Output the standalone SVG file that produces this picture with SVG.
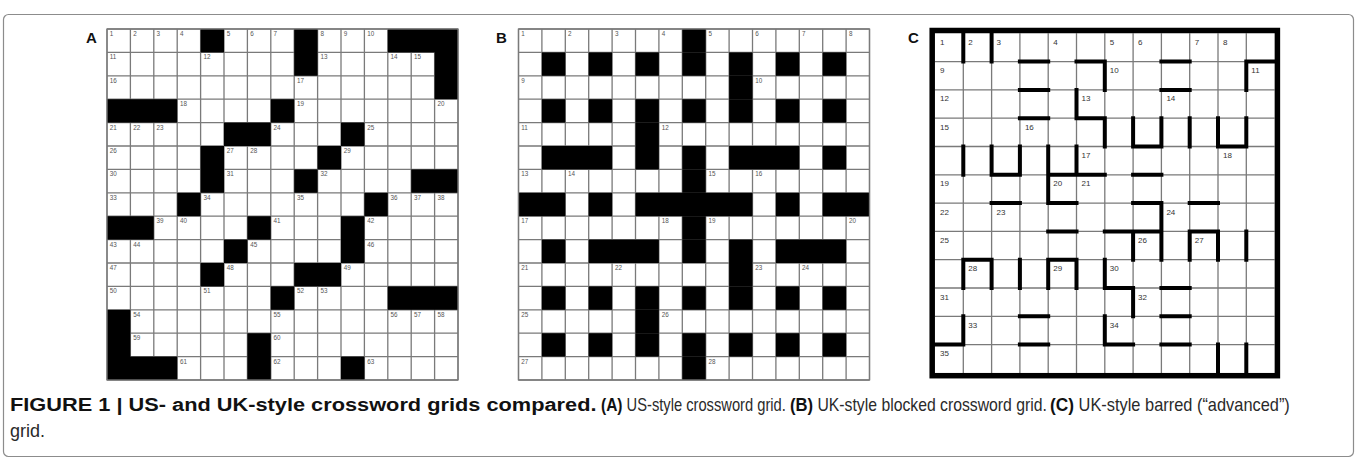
<svg xmlns="http://www.w3.org/2000/svg" xmlns:xlink="http://www.w3.org/1999/xlink" width="1357" height="461" viewBox="0 0 1357 461">
<style>
.frame{fill:none;stroke:#8c8c8c;stroke-width:1.2}
.gl{fill:none;stroke:#7a7a7a;stroke-width:1.3}
.bk{fill:#000}
.n{font-family:"Liberation Sans",Arial,sans-serif;font-size:6.3px;fill:#555}
.nc{font-family:"Liberation Sans",Arial,sans-serif;font-size:8px;fill:#333}
.lab{font-family:"Liberation Sans",Arial,sans-serif;font-size:15px;font-weight:bold;fill:#111}
.bar{fill:none;stroke:#000;stroke-width:4;stroke-linecap:square}
.border{fill:none;stroke:#000;stroke-width:5.5}
.cap{font-family:"Liberation Sans",Arial,sans-serif;font-size:18px;fill:#2a2a2a}
.cb{font-family:"Liberation Sans",Arial,sans-serif;font-size:19px;font-weight:bold;fill:#111}
.bt{font-size:19px;font-weight:bold;fill:#111}
</style>
<defs>
<rect id="s" width="23.4" height="23.4" class="bk"/>
<g id="odd">
<use xlink:href="#s" x="23.4"/><use xlink:href="#s" x="70.2"/><use xlink:href="#s" x="117"/><use xlink:href="#s" x="163.8"/><use xlink:href="#s" x="210.6"/><use xlink:href="#s" x="257.4"/><use xlink:href="#s" x="304.2"/>
</g>
</defs>
<rect class="frame" x="3.5" y="14.5" width="1350" height="442" rx="5"/>

<g id="gridA">
<text class="lab" x="86" y="43">A</text>
<path class="gl" d="M107 29H458M107 52.4H458M107 75.8H458M107 99.2H458M107 122.6H458M107 146H458M107 169.4H458M107 192.8H458M107 216.2H458M107 239.6H458M107 263H458M107 286.4H458M107 309.8H458M107 333.2H458M107 356.6H458M107 380H458M107 29V380M130.4 29V380M153.8 29V380M177.2 29V380M200.6 29V380M224 29V380M247.4 29V380M270.8 29V380M294.2 29V380M317.6 29V380M341 29V380M364.4 29V380M387.8 29V380M411.2 29V380M434.6 29V380M458 29V380"/>
<g class="bk">
<rect x="200.6" y="29" width="23.4" height="23.4"/><rect x="294.2" y="29" width="23.4" height="46.8"/><rect x="387.8" y="29" width="70.2" height="23.4"/><rect x="434.6" y="29" width="23.4" height="70.2"/>
<rect x="107" y="99.2" width="70.2" height="23.4"/><rect x="270.8" y="99.2" width="23.4" height="23.4"/>
<rect x="224" y="122.6" width="46.8" height="23.4"/><rect x="341" y="122.6" width="23.4" height="23.4"/>
<rect x="200.6" y="146" width="23.4" height="46.8"/><rect x="317.6" y="146" width="23.4" height="23.4"/>
<rect x="294.2" y="169.4" width="23.4" height="23.4"/><rect x="411.2" y="169.4" width="46.8" height="23.4"/>
<rect x="177.2" y="192.8" width="23.4" height="23.4"/><rect x="364.4" y="192.8" width="23.4" height="23.4"/>
<rect x="107" y="216.2" width="46.8" height="23.4"/><rect x="247.4" y="216.2" width="23.4" height="23.4"/><rect x="341" y="216.2" width="23.4" height="46.8"/>
<rect x="224" y="239.6" width="23.4" height="23.4"/>
<rect x="200.6" y="263" width="23.4" height="23.4"/><rect x="294.2" y="263" width="46.8" height="23.4"/>
<rect x="270.8" y="286.4" width="23.4" height="23.4"/><rect x="387.8" y="286.4" width="70.2" height="23.4"/>
<rect x="107" y="309.8" width="23.4" height="70.2"/><rect x="247.4" y="333.2" width="23.4" height="46.8"/>
<rect x="107" y="356.6" width="70.2" height="23.4"/><rect x="341" y="356.6" width="23.4" height="23.4"/>
</g>
<rect class="gl" x="107" y="29" width="351" height="351"/>
<g class="n">
<text x="109.8" y="36">1</text><text x="133.2" y="36">2</text><text x="156.6" y="36">3</text><text x="180" y="36">4</text><text x="226.8" y="36">5</text><text x="250.2" y="36">6</text><text x="273.6" y="36">7</text><text x="320.4" y="36">8</text><text x="343.8" y="36">9</text><text x="367.2" y="36">10</text>
<text x="109.8" y="59.4">11</text><text x="203.4" y="59.4">12</text><text x="320.4" y="59.4">13</text><text x="390.6" y="59.4">14</text><text x="414" y="59.4">15</text>
<text x="109.8" y="82.8">16</text><text x="297" y="82.8">17</text>
<text x="180" y="106.2">18</text><text x="297" y="106.2">19</text><text x="437.4" y="106.2">20</text>
<text x="109.8" y="129.6">21</text><text x="133.2" y="129.6">22</text><text x="156.6" y="129.6">23</text><text x="273.6" y="129.6">24</text><text x="367.2" y="129.6">25</text>
<text x="109.8" y="153">26</text><text x="226.8" y="153">27</text><text x="250.2" y="153">28</text><text x="343.8" y="153">29</text>
<text x="109.8" y="176.4">30</text><text x="226.8" y="176.4">31</text><text x="320.4" y="176.4">32</text>
<text x="109.8" y="199.8">33</text><text x="203.4" y="199.8">34</text><text x="297" y="199.8">35</text><text x="390.6" y="199.8">36</text><text x="414" y="199.8">37</text><text x="437.4" y="199.8">38</text>
<text x="156.6" y="223.2">39</text><text x="180" y="223.2">40</text><text x="273.6" y="223.2">41</text><text x="367.2" y="223.2">42</text>
<text x="109.8" y="246.6">43</text><text x="133.2" y="246.6">44</text><text x="250.2" y="246.6">45</text><text x="367.2" y="246.6">46</text>
<text x="109.8" y="270">47</text><text x="226.8" y="270">48</text><text x="343.8" y="270">49</text>
<text x="109.8" y="293.4">50</text><text x="203.4" y="293.4">51</text><text x="297" y="293.4">52</text><text x="320.4" y="293.4">53</text>
<text x="133.2" y="316.8">54</text><text x="273.6" y="316.8">55</text><text x="390.6" y="316.8">56</text><text x="414" y="316.8">57</text><text x="437.4" y="316.8">58</text>
<text x="133.2" y="340.2">59</text><text x="273.6" y="340.2">60</text>
<text x="180" y="363.6">61</text><text x="273.6" y="363.6">62</text><text x="367.2" y="363.6">63</text>
</g>
</g>

<g id="gridB">
<text class="lab" x="496" y="43">B</text>
<path class="gl" d="M518.5 29H869.5M518.5 52.4H869.5M518.5 75.8H869.5M518.5 99.2H869.5M518.5 122.6H869.5M518.5 146H869.5M518.5 169.4H869.5M518.5 192.8H869.5M518.5 216.2H869.5M518.5 239.6H869.5M518.5 263H869.5M518.5 286.4H869.5M518.5 309.8H869.5M518.5 333.2H869.5M518.5 356.6H869.5M518.5 380H869.5M518.5 29V380M541.9 29V380M565.3 29V380M588.7 29V380M612.1 29V380M635.5 29V380M658.9 29V380M682.3 29V380M705.7 29V380M729.1 29V380M752.5 29V380M775.9 29V380M799.3 29V380M822.7 29V380M846.1 29V380M869.5 29V380"/>
<g class="bk">
<use xlink:href="#odd" x="518.5" y="52.4"/><use xlink:href="#odd" x="518.5" y="99.2"/><use xlink:href="#odd" x="518.5" y="286.4"/><use xlink:href="#odd" x="518.5" y="333.2"/>
<rect x="682.3" y="29" width="23.4" height="23.4"/><rect x="729.1" y="75.8" width="23.4" height="23.4"/><rect x="635.5" y="122.6" width="23.4" height="23.4"/>
<rect x="541.9" y="146" width="70.2" height="23.4"/><rect x="635.5" y="146" width="23.4" height="23.4"/><rect x="682.3" y="146" width="23.4" height="23.4"/><rect x="729.1" y="146" width="70.2" height="23.4"/><rect x="822.7" y="146" width="23.4" height="23.4"/>
<rect x="682.3" y="169.4" width="23.4" height="23.4"/>
<rect x="518.5" y="192.8" width="46.8" height="23.4"/><rect x="588.7" y="192.8" width="23.4" height="23.4"/><rect x="635.5" y="192.8" width="117" height="23.4"/><rect x="775.9" y="192.8" width="23.4" height="23.4"/><rect x="822.7" y="192.8" width="46.8" height="23.4"/>
<rect x="682.3" y="216.2" width="23.4" height="23.4"/>
<rect x="541.9" y="239.6" width="23.4" height="23.4"/><rect x="588.7" y="239.6" width="70.2" height="23.4"/><rect x="682.3" y="239.6" width="23.4" height="23.4"/><rect x="729.1" y="239.6" width="23.4" height="23.4"/><rect x="775.9" y="239.6" width="70.2" height="23.4"/>
<rect x="729.1" y="263" width="23.4" height="23.4"/><rect x="635.5" y="309.8" width="23.4" height="23.4"/><rect x="682.3" y="356.6" width="23.4" height="23.4"/>
</g>
<rect class="gl" x="518.5" y="29" width="351" height="351"/>
<g class="n">
<text x="521.3" y="36">1</text><text x="568.1" y="36">2</text><text x="614.9" y="36">3</text><text x="661.7" y="36">4</text><text x="708.5" y="36">5</text><text x="755.3" y="36">6</text><text x="802.1" y="36">7</text><text x="848.9" y="36">8</text>
<text x="521.3" y="82.8">9</text><text x="755.3" y="82.8">10</text>
<text x="521.3" y="129.6">11</text><text x="661.7" y="129.6">12</text>
<text x="521.3" y="176.4">13</text><text x="568.1" y="176.4">14</text><text x="708.5" y="176.4">15</text><text x="755.3" y="176.4">16</text>
<text x="521.3" y="223.2">17</text><text x="661.7" y="223.2">18</text><text x="708.5" y="223.2">19</text><text x="848.9" y="223.2">20</text>
<text x="521.3" y="270">21</text><text x="614.9" y="270">22</text><text x="755.3" y="270">23</text><text x="802.1" y="270">24</text>
<text x="521.3" y="316.8">25</text><text x="661.7" y="316.8">26</text>
<text x="521.3" y="363.6">27</text><text x="708.5" y="363.6">28</text>
</g>
</g>

<g id="gridC">
<text class="lab" x="908" y="43">C</text>
<path class="gl" d="M935 61.6H1274.6M935 89.9H1274.6M935 118.2H1274.6M935 146.5H1274.6M935 174.8H1274.6M935 203.1H1274.6M935 231.4H1274.6M935 259.7H1274.6M935 288H1274.6M935 316.3H1274.6M935 344.6H1274.6M963.3 33.3V372.9M991.6 33.3V372.9M1019.9 33.3V372.9M1048.2 33.3V372.9M1076.5 33.3V372.9M1104.8 33.3V372.9M1133.1 33.3V372.9M1161.4 33.3V372.9M1189.7 33.3V372.9M1218 33.3V372.9M1246.3 33.3V372.9"/>
<path class="bar" d="M963.3 33.3V61.6M991.6 33.3V61.6M1104.8 61.6V89.9M1246.3 61.6V89.9M1076.5 89.9V118.2M1104.8 118.2V146.5M1133.1 118.2V146.5M1161.4 118.2V146.5M1189.7 118.2V146.5M1218 118.2V146.5M1246.3 118.2V146.5M963.3 146.5V174.8M991.6 146.5V174.8M1019.9 146.5V174.8M1048.2 146.5V203.1M1076.5 146.5V174.8M1161.4 203.1V259.7M1133.1 231.4V259.7M1189.7 231.4V259.7M1218 231.4V259.7M1246.3 231.4V259.7M963.3 259.7V288M991.6 259.7V288M1019.9 259.7V288M1048.2 259.7V288M1076.5 259.7V288M1104.8 259.7V288M1133.1 288V316.3M963.3 316.3V344.6M1104.8 316.3V344.6M1218 344.6V372.9M1246.3 344.6V372.9
M1019.9 61.6H1048.2M1076.5 61.6H1104.8M1161.4 61.6H1189.7M1246.3 61.6H1274.6M1019.9 89.9H1048.2M1161.4 89.9H1189.7M1019.9 118.2H1048.2M1076.5 118.2H1104.8M1133.1 146.5H1161.4M1218 146.5H1246.3M991.6 174.8H1019.9M1048.2 174.8H1104.8M1133.1 174.8H1161.4M991.6 203.1H1019.9M1048.2 203.1H1076.5M1133.1 203.1H1161.4M1189.7 203.1H1218M1048.2 231.4H1076.5M1104.8 231.4H1161.4M1189.7 231.4H1218M963.3 259.7H991.6M1048.2 259.7H1076.5M1104.8 288H1133.1M1161.4 288H1189.7M1019.9 316.3H1048.2M1161.4 316.3H1189.7M935 344.6H963.3M1019.9 344.6H1048.2M1104.8 344.6H1133.1M1161.4 344.6H1189.7"/>
<rect class="border" x="932.2" y="30.5" width="345.2" height="345.2"/>
<g class="nc">
<text x="940" y="44.8">1</text><text x="968.3" y="44.8">2</text><text x="996.6" y="44.8">3</text><text x="1053.2" y="44.8">4</text><text x="1109.8" y="44.8">5</text><text x="1138.1" y="44.8">6</text><text x="1194.7" y="44.8">7</text><text x="1223" y="44.8">8</text>
<text x="940" y="73.1">9</text><text x="1109.8" y="73.1">10</text><text x="1251.3" y="73.1">11</text>
<text x="940" y="101.4">12</text><text x="1081.5" y="101.4">13</text><text x="1166.4" y="101.4">14</text>
<text x="940" y="129.7">15</text><text x="1024.9" y="129.7">16</text>
<text x="1081.5" y="158">17</text><text x="1223" y="158">18</text>
<text x="940" y="186.3">19</text><text x="1053.2" y="186.3">20</text><text x="1081.5" y="186.3">21</text>
<text x="940" y="214.6">22</text><text x="996.6" y="214.6">23</text><text x="1166.4" y="214.6">24</text>
<text x="940" y="242.9">25</text><text x="1138.1" y="242.9">26</text><text x="1194.7" y="242.9">27</text>
<text x="968.3" y="271.2">28</text><text x="1053.2" y="271.2">29</text><text x="1109.8" y="271.2">30</text>
<text x="940" y="299.5">31</text><text x="1138.1" y="299.5">32</text>
<text x="968.3" y="327.8">33</text><text x="1109.8" y="327.8">34</text>
<text x="940" y="356.1">35</text>
</g>
</g>

<g id="caption">
<text class="cb" transform="translate(10 411) scale(1.146 1)">FIGURE 1 | US- and UK-style crossword grids compared.</text>
<text class="cap" transform="translate(601 411) scale(0.817 1)"><tspan class="bt">(A)</tspan> US-style crossword grid.</text>
<text class="cap" transform="translate(790 411) scale(0.876 1)"><tspan class="bt">(B)</tspan> UK-style blocked crossword grid.</text>
<text class="cap" transform="translate(1050 411) scale(0.911 1)"><tspan class="bt">(C)</tspan> UK-style barred (“advanced”)</text>
<text class="cap" x="10" y="437">grid.</text>
</g>
</svg>
